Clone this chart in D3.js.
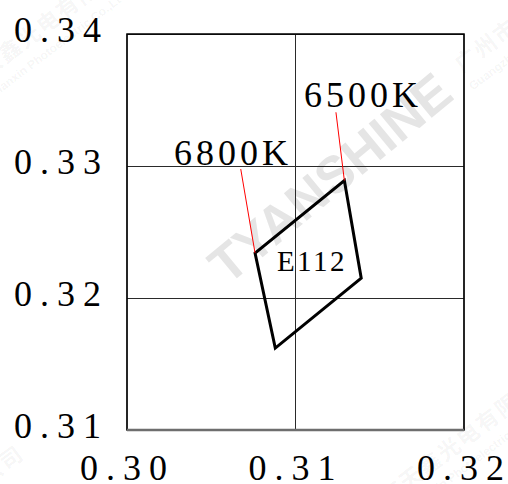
<!DOCTYPE html>
<html lang="en">
<head>
<meta charset="UTF-8">
<title>E112</title>
<script src="https://cdn.jsdelivr.net/npm/d3@7"></script>
<style>
  body { margin: 0; overflow: hidden; background: #fff; }
</style>
</head>
<body>
<svg id="chart" width="508" height="484"></svg>
<script>
// chromaticity bin, CIE 1931 x / y
const xTicks = [0.30, 0.31, 0.32];
const yTicks = [0.31, 0.32, 0.33, 0.34];
const binX = [0.3129, 0.3139, 0.3088, 0.3076];
const binY = [0.3289, 0.3215, 0.3162, 0.3234];
const binName = "E112";

// CCT callouts: which corner they point at, where the red leader starts, where the text sits
const cctLabels = ["6500K", "6800K"];
const cctCorner = [0, 3];
const cctLeadX = [0.31240, 0.30675];
const cctLeadY = [0.33407, 0.32977];
const cctTextX = [0.31050, 0.30279];
const cctTextY = [0.33449, 0.33011];

// faint company watermark repeated in the corners (pixel anchors of the first glyph)
const markCN = "广州市天鑫光电有限公司";
const markEN = "Guangzhou Tianxin Photoelectric Co.,Ltd";
const markAt = [[467, 60], [-66, 108], [354, 521], [-180, 602]];

const svg = d3.select("#chart");
const pLeft = 127, pRight = 464, pTop = 34, pBottom = 430;

const x = d3.scaleLinear().domain([0.30, 0.32]).range([pLeft, pRight]);
const y = d3.scaleLinear().domain([0.31, 0.34]).range([pBottom, pTop]);

// watermarks first so everything else sits on top
const wm = svg.append("g").attr("pointer-events", "none");
wm.append("text")
    .attr("transform", "translate(330,178) rotate(-39.5)")
    .attr("text-anchor", "middle")
    .attr("dy", "0.35em")
    .style("font-family", "'Liberation Sans', Arial, sans-serif")
    .style("font-weight", "bold")
    .style("font-size", "52px")
    .style("fill", "#e5e5e5")
    .text("TYANSHINE");

markAt.forEach(function (p) {
    let g = wm.append("g").attr("transform", "translate(" + p[0] + "," + p[1] + ") rotate(-37)");
    g.append("text")
        .attr("x", -12).attr("dy", "0.35em")
        .style("font-family", "'Noto Sans CJK SC', sans-serif")
        .style("font-weight", "bold")
        .style("font-size", "22px")
        .style("letter-spacing", "2px")
        .style("fill", "#000").style("fill-opacity", 0.05)
        .text(markCN);
    g.append("text")
        .attr("x", -14).attr("y", 28)
        .style("font-family", "'Liberation Sans', Arial, sans-serif")
        .style("font-weight", "bold")
        .style("font-size", "12px")
        .style("fill", "#000").style("fill-opacity", 0.05)
        .text(markEN);
});

// grid
svg.append("g")
    .attr("transform", "translate(0," + pBottom + ")")
    .call(d3.axisBottom(x).tickValues(xTicks).tickSize(-(pBottom - pTop)).tickFormat("").offset(0))
    .call(g => g.select(".domain").remove())
    .call(g => g.selectAll(".tick line").attr("stroke", "#2a2a2a").attr("stroke-width", 1));
svg.append("g")
    .attr("transform", "translate(" + pLeft + ",0)")
    .call(d3.axisLeft(y).tickValues(yTicks).tickSize(-(pRight - pLeft)).tickFormat(""))
    .call(g => g.select(".domain").remove())
    .call(g => g.selectAll(".tick line").attr("stroke", "#2a2a2a").attr("stroke-width", 1));

// frame
svg.append("rect")
    .attr("x", pLeft).attr("y", pTop)
    .attr("width", pRight - pLeft).attr("height", pBottom - pTop)
    .attr("fill", "none").attr("stroke", "#000").attr("stroke-width", 1.5);
svg.append("line")
    .attr("x1", pLeft).attr("x2", pRight).attr("y1", pBottom).attr("y2", pBottom)
    .attr("stroke", "#6e6e6e").attr("stroke-width", 2.5);

// tick labels
const fmt = d3.format(".2f");
const tickFont = g => g.selectAll("text")
    .style("font-family", "'Liberation Serif', 'Times New Roman', serif")
    .style("font-size", "36px")
    .style("letter-spacing", "8px")
    .attr("fill", "#000");

svg.append("g")
    .attr("transform", "translate(0," + pBottom + ")")
    .call(d3.axisBottom(x).tickValues(xTicks).tickSize(0).tickPadding(24).tickFormat(fmt))
    .call(g => g.select(".domain").remove())
    .call(tickFont);

svg.append("g")
    .attr("transform", "translate(" + pLeft + ",0)")
    .call(d3.axisLeft(y).tickValues(yTicks).tickSize(0).tickPadding(18).tickFormat(fmt))
    .call(g => g.select(".domain").remove())
    .call(tickFont)
    .call(g => g.selectAll("text").attr("dy", "0.2em"));

// bin quadrilateral
const corners = binX.map((v, i) => [v, binY[i]]);
svg.append("path")
    .datum(corners)
    .attr("d", d3.line().x(d => x(d[0])).y(d => y(d[1])).curve(d3.curveLinearClosed))
    .attr("fill", "none")
    .attr("stroke", "#000")
    .attr("stroke-width", 3)
    .attr("stroke-linejoin", "miter");

svg.append("text")
    .attr("x", x(d3.mean(binX)) + 3)
    .attr("y", y(d3.mean(binY)) + 6)
    .attr("text-anchor", "middle")
    .style("font-family", "'Liberation Serif', 'Times New Roman', serif")
    .style("font-size", "29px")
    .style("letter-spacing", "2.5px")
    .text(binName);

// CCT callouts
cctLabels.forEach(function (lab, i) {
    let c = corners[cctCorner[i]];
    svg.append("line")
        .attr("x1", x(cctLeadX[i])).attr("y1", y(cctLeadY[i]))
        .attr("x2", x(c[0])).attr("y2", y(c[1]))
        .attr("stroke", "#ff0000").attr("stroke-width", 1);
    svg.append("text")
        .attr("x", x(cctTextX[i])).attr("y", y(cctTextY[i]))
        .style("font-family", "'Liberation Serif', 'Times New Roman', serif")
        .style("font-size", "36px")
        .style("letter-spacing", "4px")
        .text(lab);
});
</script>
</body>
</html>
